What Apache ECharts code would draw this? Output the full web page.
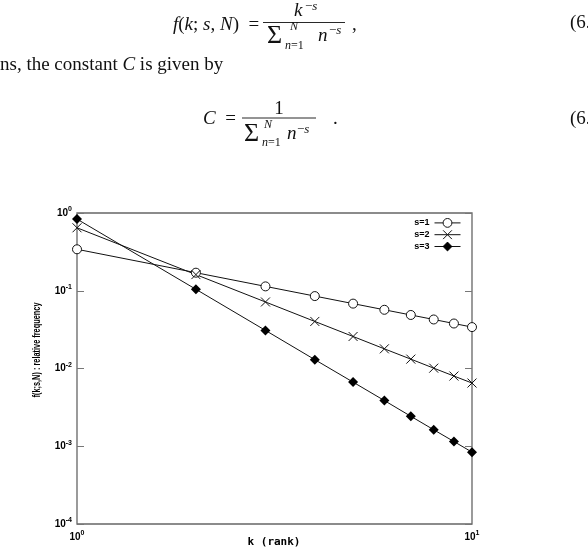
<!DOCTYPE html>
<html><head><meta charset="utf-8">
<script src="https://cdn.jsdelivr.net/npm/echarts@6/dist/echarts.min.js"></script>
<style>html,body{margin:0;padding:0;background:#fff}#c{width:588px;height:556px}</style>
</head><body><div id="c"></div>
<script>
// ---- data ----
const ranks = [1, 2, 3, 4, 5, 6, 7, 8, 9, 10];
const seriesNames = ['s=1', 's=2', 's=3'];
const s1 = [0.3414, 0.1707, 0.1138, 0.0854, 0.0683, 0.0569, 0.0488, 0.0427, 0.0379, 0.0341];
const s2 = [0.6453, 0.1613, 0.0717, 0.0403, 0.0258, 0.0179, 0.0132, 0.0101, 0.0080, 0.0065];
const s3 = [0.8351, 0.1044, 0.0309, 0.0130, 0.00668, 0.00387, 0.00243, 0.00163, 0.00115, 0.00084];
const xTickExps = [0, 1];
const yTickExps = [0, -1, -2, -3, -4];
const xAxisTitle = 'k (rank)';
const yAxisTitle = 'f(k;s,N) : relative frequency';

// ---- helpers ----
const SERIF = "'Liberation Serif','Times New Roman',serif";
const SANS = "'Liberation Sans',Arial,sans-serif";
const richSerif = (size) => ({
  i: { fontFamily: SERIF, fontStyle: 'italic', fontSize: size, fill: '#111' },
  r: { fontFamily: SERIF, fontStyle: 'normal', fontSize: size, fill: '#111' }
});
function T(x, baseline, text, size, opt) {
  opt = opt || {};
  return {
    type: 'text', silent: true, x: x, y: baseline - 0.3375 * size + 2,
    scaleX: opt.sx || 1,
    style: {
      text: text, fontFamily: SERIF, fontSize: size,
      fontStyle: opt.italic ? 'italic' : 'normal',
      fill: '#111', align: opt.align || 'left', verticalAlign: 'middle',
      rich: richSerif(size)
    }
  };
}
function L(x1, x2, y) {
  return { type: 'line', silent: true, shape: { x1: x1, y1: y, x2: x2, y2: y }, style: { stroke: '#111', lineWidth: 0.9 } };
}
function expLabel(list) {
  return function (v) {
    const e = Math.round(Math.log10(v));
    if (list.indexOf(e) < 0) return '';
    return '{b|10}{e|' + (e < 0 ? '-' + Math.abs(e) : e) + '}';
  };
}
const labelRich = {
  b: { fontFamily: SANS, fontWeight: 'bold', fontSize: 10, color: '#000' },
  e: { fontFamily: SANS, fontWeight: 'bold', fontSize: 7, color: '#000', padding: [0, 0, 7, 0] }
};

const graphics = [
  // formula 1
  T(173, 29, '{i|f}{r|(}{i|k}{r|; }{i|s}{r|, }{i|N}{r|)  =}', 19),
  T(294, 15, 'k', 19, { italic: true }),
  T(305, 9, '{r|−}{i|s}', 13),
  L(263, 345, 22.5),
  T(267, 43, 'Σ', 26),
  T(290, 29, 'N', 12, { italic: true }),
  T(285, 48, '{i|n}{r|=1}', 12),
  T(318, 40, 'n', 19, { italic: true }),
  T(329, 33, '{r|−}{i|s}', 13),
  T(352, 29, ',', 19),
  T(570, 27, '(6.', 19),
  // text line
  T(0, 69, '{r|ns, the constant }{i|C}{r| is given by}', 19),
  // formula 2
  T(203, 123, '{i|C}{r|  =}', 19),
  T(279, 113, '1', 19, { align: 'center' }),
  L(242, 316, 118),
  T(244, 141, 'Σ', 26),
  T(264, 127, 'N', 12, { italic: true }),
  T(262, 145, '{i|n}{r|=1}', 12),
  T(287, 138, 'n', 19, { italic: true }),
  T(297, 132, '{r|−}{i|s}', 13),
  T(333, 123, '.', 19),
  T(570, 123, '(6.', 19),
  // axis titles
  {
    type: 'text', silent: true, x: 37, y: 350, rotation: Math.PI / 2, scaleX: 0.67,
    style: { text: yAxisTitle, fontFamily: SANS, fontWeight: 'bold', fontSize: 11, fill: '#000', align: 'center', verticalAlign: 'middle' }
  },
  {
    type: 'text', silent: true, x: 274, y: 542,
    style: { text: xAxisTitle, fontFamily: "'DejaVu Sans Mono',monospace", fontWeight: 'bold', fontSize: 11, fill: '#000', align: 'center', verticalAlign: 'middle' }
  }
];

const mk = (arr) => ranks.map((k, i) => [k, arr[i]]);
const lineStyle = { color: '#111', width: 1 };
const common = { type: 'line', showAllSymbol: true, animation: false, emphasis: { disabled: true }, lineStyle: lineStyle, z: 3 };

const option = {
  animation: false,
  grid: { left: 77, top: 213, right: 116, bottom: 32, show: true, borderColor: '#666', borderWidth: 1.3, backgroundColor: 'transparent' },
  legend: {
    data: seriesNames, orient: 'vertical', right: 127, top: 218, align: 'right', padding: 0,
    itemWidth: 26, itemHeight: 11, itemGap: 2, selectedMode: false,
    itemStyle: { borderWidth: 1 },
    lineStyle: { width: 1 },
    textStyle: { fontFamily: SANS, fontWeight: 'bold', fontSize: 9, color: '#000' }
  },
  xAxis: {
    type: 'log', logBase: 10, min: 1, max: 10,
    axisLine: { show: false }, axisTick: { show: false }, splitLine: { show: false }, minorTick: { show: false },
    axisLabel: { formatter: expLabel(xTickExps), rich: labelRich, margin: 6 }
  },
  yAxis: [
    {
      type: 'log', logBase: 10, min: 0.0001, max: 1,
      axisLine: { show: false }, splitLine: { show: false },
      axisTick: { show: true, inside: true, length: 7, lineStyle: { color: '#777', width: 1 } },
      axisLabel: { formatter: expLabel(yTickExps), rich: labelRich, margin: 5 }
    },
    {
      type: 'log', logBase: 10, min: 0.0001, max: 1, position: 'right',
      axisLine: { show: false }, splitLine: { show: false },
      axisTick: { show: true, inside: true, length: 7, lineStyle: { color: '#777', width: 1 } },
      axisLabel: { show: false }
    }
  ],
  series: [
    Object.assign({}, common, {
      name: seriesNames[0], data: mk(s1), symbol: 'circle', symbolSize: 9,
      itemStyle: { color: '#fff', borderColor: '#111', borderWidth: 1 }
    }),
    Object.assign({}, common, {
      name: seriesNames[1], data: mk(s2), symbol: 'path://M0,0L10,10M10,0L0,10', symbolSize: 9,
      itemStyle: { color: '#111', borderColor: '#111', borderWidth: 1 }
    }),
    Object.assign({}, common, {
      name: seriesNames[2], data: mk(s3), symbol: 'diamond', symbolSize: 10,
      itemStyle: { color: '#000', borderColor: '#000', borderWidth: 0 }
    })
  ],
  graphic: graphics
};
const chart = echarts.init(document.getElementById('c'), null, { renderer: 'canvas' });
chart.setOption(option);
</script>
</body></html>
